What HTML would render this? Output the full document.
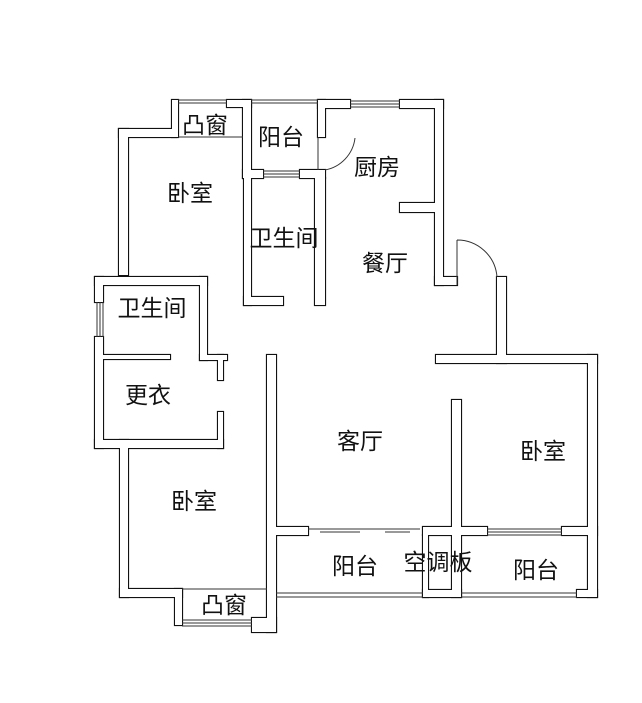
<!DOCTYPE html>
<html><head><meta charset="utf-8"><style>
html,body{margin:0;padding:0;background:#fff;}
svg{display:block;}
text{font-family:"Liberation Sans","Noto Sans CJK SC",sans-serif;font-size:23px;fill:#111;text-anchor:middle;dominant-baseline:central;}
</style></head><body>
<svg width="642" height="703" viewBox="0 0 642 703">
<defs>
<g id="w">
<rect x="119" y="129" width="9" height="146"/>
<rect x="119" y="129" width="57" height="8"/>
<rect x="172" y="100" width="6" height="37"/>
<rect x="227" y="100" width="24" height="7"/>
<rect x="243" y="100" width="8" height="78"/>
<rect x="243" y="170" width="20" height="8"/>
<rect x="300" y="170" width="25" height="8"/>
<rect x="318" y="100" width="7" height="37"/>
<rect x="318" y="100" width="32" height="8"/>
<rect x="400" y="100" width="43" height="8"/>
<rect x="435" y="100" width="8" height="185"/>
<rect x="400" y="203" width="35" height="9"/>
<rect x="435" y="277" width="22" height="8"/>
<rect x="244" y="178" width="7" height="127"/>
<rect x="244" y="297" width="39" height="8"/>
<rect x="315" y="178" width="10" height="127"/>
<rect x="497" y="277" width="9" height="86"/>
<rect x="436" y="355" width="161" height="8"/>
<rect x="588" y="355" width="9" height="242"/>
<rect x="95" y="277" width="112" height="8"/>
<rect x="95" y="277" width="8" height="25"/>
<rect x="95" y="337" width="8" height="111"/>
<rect x="200" y="277" width="7" height="83"/>
<rect x="103" y="355" width="67" height="4"/>
<rect x="200" y="355" width="27" height="5"/>
<rect x="218" y="355" width="5" height="25"/>
<rect x="218" y="412" width="5" height="36"/>
<rect x="95" y="440" width="128" height="8"/>
<rect x="120" y="440" width="8" height="157"/>
<rect x="120" y="589" width="62" height="8"/>
<rect x="175" y="589" width="7" height="36"/>
<rect x="267" y="355" width="9" height="277"/>
<rect x="252" y="618" width="24" height="14"/>
<rect x="276" y="527" width="32" height="8"/>
<rect x="423" y="527" width="64" height="8"/>
<rect x="452" y="400" width="9" height="197"/>
<rect x="423" y="535" width="5" height="62"/>
<rect x="423" y="590" width="38" height="7"/>
<rect x="562" y="527" width="35" height="8"/>
<rect x="577" y="590" width="20" height="7"/>
</g>
</defs>
<g stroke="#111" stroke-width="2.2" fill="#111"><use href="#w"/></g>
<g fill="#fff" stroke="none"><use href="#w"/></g>
<g stroke="#333" stroke-width="1" fill="none">
<path d="M178 100H227M178 103H227"/>
<path d="M251 100H318M251 103H318"/>
<path d="M350 101H400M350 104H400M350 107H400"/>
<path d="M263 171H300M263 174H300M263 177H300"/>
<path d="M178 137H243"/>
<path d="M97 302V337M100 302V337M103 302V337"/>
<path d="M182 589H267"/>
<path d="M182 620H252M182 623H252M182 626H252"/>
<path d="M308 529H420M320 532H360M385 532H410"/>
<path d="M276 593H423M276 597H423"/>
<path d="M461 593H577M461 597H577"/>
<path d="M487 529H562M487 532H562M487 535H562"/>
<path d="M318 137V170M355 138A37 37 0 0 1 325 170"/>
<path d="M457 240V285M457 240A40 40 0 0 1 497 277"/>
</g>
<text x="205" y="125">凸窗</text>
<text x="281" y="137">阳台</text>
<text x="190" y="193">卧室</text>
<text x="377" y="167">厨房</text>
<text x="284" y="238">卫生间</text>
<text x="385" y="263">餐厅</text>
<text x="152" y="308">卫生间</text>
<text x="148" y="395">更衣</text>
<text x="360" y="441">客厅</text>
<text x="543" y="451">卧室</text>
<text x="194" y="501">卧室</text>
<text x="355" y="566">阳台</text>
<text x="438" y="562">空调板</text>
<text x="536" y="570">阳台</text>
<text x="224" y="605">凸窗</text>
</svg>
</body></html>
